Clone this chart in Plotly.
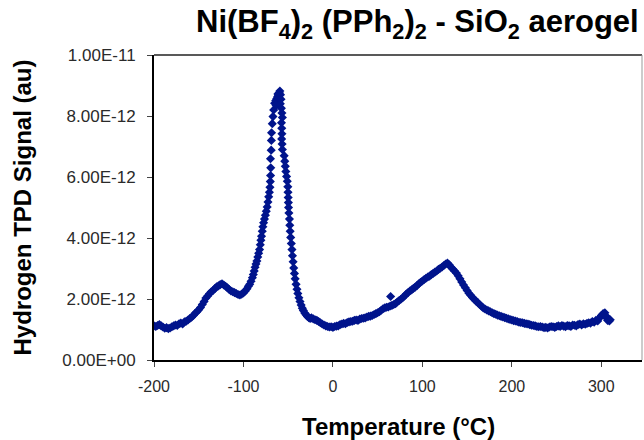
import numpy as np
import plotly.graph_objects as go

# ---- data (signal in units of 1e-12 au) ----
temp_low = [-200, -198, -196, -194, -192, -190, -188, -186, -184, -182, -180, -178, -176, -174,
            -172, -170, -168, -166, -164, -162, -160, -158, -156, -154, -152, -150, -148, -146,
            -144, -142, -140, -138, -136, -134, -132, -130, -128, -126, -124, -122, -120, -118,
            -116, -114, -112, -110, -108, -106, -104, -102, -100, -98, -96, -94.5, -93, -91.5]
sig_low = [1.12, 1.10, 1.13, 1.16, 1.12, 1.08, 1.04, 1.06, 1.03, 1.05, 1.09, 1.12, 1.15, 1.13,
           1.19, 1.21, 1.18, 1.25, 1.27, 1.31, 1.36, 1.40, 1.46, 1.53, 1.58, 1.65, 1.72, 1.82,
           1.92, 2.03, 2.10, 2.17, 2.24, 2.28, 2.34, 2.40, 2.43, 2.47, 2.50, 2.46, 2.42, 2.37,
           2.31, 2.26, 2.24, 2.21, 2.18, 2.15, 2.13, 2.16, 2.20, 2.26, 2.34, 2.42, 2.48, 2.58]

temp_peak = [-90.0, -89.0, -88.0, -87.0, -86.0, -85.0, -84.0, -83.0, -82.0, -81.2, -80.5, -79.8,
             -79.0, -78.3, -77.5, -76.5, -75.5, -74.5, -73.5, -72.6, -71.8, -71.0, -70.4, -70.0,
             -69.7, -69.5, -69.8, -69.0, -68.8, -68.6, -67.8, -67.0, -66.2, -65.2, -64.0, -63.0,
             -62.0, -61.0, -60.0, -59.3, -61.5, -60.5, -63.5,
             -58.6, -58.0, -58.8, -57.6, -57.0, -56.5, -57.5, -57.2, -57.0, -57.3, -56.8, -56.5,
             -54.5, -53.8, -53.2, -52.6, -51.8, -51.0, -50.4, -50.2, -50.0, -49.8, -49.6, -49.2,
             -48.6, -48.2, -47.8, -47.2, -46.5, -45.8, -45.2, -44.5, -43.8, -43.0, -42.2, -41.2,
             -40.2, -39.2, -38.0, -36.8, -35.5, -34.2, -33.0, -31.5, -30.0, -28.5, -27.0, -25.5]
sig_peak = [2.70, 2.80, 2.92, 3.04, 3.15, 3.25, 3.38, 3.50, 3.62, 3.78, 3.93, 4.06,
            4.22, 4.37, 4.50, 4.62, 4.75, 4.88, 5.02, 5.18, 5.35, 5.50, 5.66, 5.85,
            6.05, 6.30, 6.60, 6.88, 7.20, 7.45, 7.75, 7.98, 8.20, 8.42, 8.50, 8.56,
            8.62, 8.68, 8.76, 8.82, 8.72, 8.60, 8.35,
            8.70, 8.55, 8.40, 8.25, 8.10, 7.95, 7.78, 7.60, 7.42, 7.25, 7.08, 6.90,
            6.70, 6.52, 6.35, 6.18, 6.02, 5.86, 5.68, 5.50, 5.33, 5.16, 5.00, 4.82,
            4.62, 4.42, 4.22, 4.02, 3.82, 3.62, 3.42, 3.22, 3.02, 2.84, 2.66, 2.48,
            2.32, 2.18, 2.04, 1.92, 1.80, 1.70, 1.62, 1.54, 1.48, 1.43, 1.39, 1.36]

temp_high = [-24, -22, -20, -18, -16, -14, -12, -10, -8, -6, -4, -2, 0, 2, 4, 6, 8, 10, 12, 14,
             16, 18, 20, 22, 24, 26, 28, 30, 32, 34, 36, 38, 40, 42, 44, 46, 48, 50, 52, 54, 56,
             58, 60, 62, 64, 64.5, 66, 68, 70, 72, 74, 76, 78, 80, 82, 84, 86, 88, 90, 92, 94, 96,
             98, 100, 102, 104, 106, 108, 110, 112, 114, 116, 118, 120, 122, 124, 126, 128, 130,
             132, 134, 136, 138, 140, 142, 144, 146, 148, 150, 152, 154, 156, 158, 160, 162, 164,
             166, 168, 170, 172, 174, 176, 178, 180, 182, 184, 186, 188, 190, 192, 194, 196, 198,
             200, 202, 204, 206, 208, 210, 212, 214, 216, 218, 220, 222, 224, 226, 228, 230, 232,
             234, 236, 238, 240, 242, 244, 246, 248, 250, 252, 254, 256, 258, 260, 262, 264, 266,
             268, 270, 272, 274, 276, 278, 280, 282, 284, 286, 288, 290, 292, 294, 296, 298, 300,
             302, 304, 305, 306, 307, 308, 309, 310]
sig_high = [1.38, 1.35, 1.32, 1.30, 1.26, 1.22, 1.18, 1.15, 1.12, 1.10, 1.08, 1.09, 1.07, 1.10,
            1.11, 1.12, 1.16, 1.18, 1.20, 1.19, 1.23, 1.25, 1.26, 1.27, 1.30, 1.31, 1.30, 1.34,
            1.36, 1.37, 1.38, 1.41, 1.43, 1.44, 1.46, 1.49, 1.52, 1.55, 1.58, 1.63, 1.68, 1.71,
            1.73, 1.74, 1.77, 2.08, 1.79, 1.82, 1.85, 1.90, 1.95, 1.99, 2.04, 2.10, 2.16, 2.21,
            2.26, 2.30, 2.35, 2.39, 2.44, 2.50, 2.55, 2.59, 2.64, 2.68, 2.72, 2.75, 2.80, 2.84,
            2.88, 2.92, 2.97, 3.01, 3.05, 3.10, 3.15, 3.18, 3.12, 3.04, 2.98, 2.92, 2.85, 2.76,
            2.66, 2.56, 2.46, 2.37, 2.28, 2.19, 2.12, 2.05, 1.99, 1.93, 1.88, 1.82, 1.76, 1.71,
            1.67, 1.64, 1.61, 1.58, 1.55, 1.52, 1.50, 1.47, 1.45, 1.43, 1.41, 1.39, 1.37, 1.35,
            1.33, 1.31, 1.29, 1.28, 1.26, 1.24, 1.23, 1.22, 1.20, 1.19, 1.18, 1.16, 1.14, 1.13,
            1.12, 1.10, 1.09, 1.10, 1.08, 1.06, 1.07, 1.05, 1.08, 1.10, 1.09, 1.07, 1.10, 1.12,
            1.10, 1.13, 1.11, 1.09, 1.13, 1.12, 1.10, 1.15, 1.14, 1.12, 1.16, 1.18, 1.15, 1.19,
            1.17, 1.20, 1.22, 1.21, 1.26, 1.24, 1.30, 1.28, 1.38, 1.46, 1.52, 1.55, 1.45, 1.38,
            1.30, 1.34, 1.28, 1.32]

y_tick_vals = [0, 2e-12, 4e-12, 6e-12, 8e-12, 1e-11]
y_tick_text = ["0.00E+00", "2.00E-12", "4.00E-12", "6.00E-12", "8.00E-12", "1.00E-11"]
x_tick_vals = [-200, -100, 0, 100, 200, 300]
x_tick_text = ["-200", "-100", "0", "100", "200", "300"]

temperature = temp_low + temp_peak + temp_high
signal = np.array(sig_low + sig_peak + sig_high) * 1e-12

FONT = "Liberation Sans, Arial, sans-serif"
MARK = "#00148C"

fig = go.Figure()
fig.add_trace(go.Scatter(
    x=temperature, y=signal, mode="markers",
    marker=dict(symbol="diamond", size=7, color=MARK, line=dict(width=0)),
    showlegend=False, hoverinfo="x+y"))

fig.update_layout(
    width=644, height=440,
    margin=dict(l=154, r=2, t=55, b=80),
    paper_bgcolor="white", plot_bgcolor="white",
    font=dict(family=FONT, color="#222"),
    xaxis=dict(range=[-200, 345.5], tickvals=x_tick_vals, ticktext=x_tick_text,
               showgrid=False, zeroline=False,
               showline=True, linecolor="black", linewidth=2, ticks="outside",
               ticklen=5, tickwidth=1, tickcolor="#444", ticklabelstandoff=6,
               tickfont=dict(size=16, family=FONT, color="#2a2a2a")),
    yaxis=dict(range=[0, 1e-11], tickvals=y_tick_vals, ticktext=y_tick_text,
               showgrid=False, zeroline=False, showline=True, linecolor="black", linewidth=2,
               ticks="outside", ticklen=5, tickwidth=1, tickcolor="#444", ticklabelstandoff=8,
               tickfont=dict(size=17, family=FONT, color="#2a2a2a")),
    shapes=[
        dict(type="line", xref="paper", yref="paper", x0=0, x1=1, y0=1, y1=1,
             line=dict(color="#222", width=1.5)),
        dict(type="line", xref="paper", yref="paper", x0=1, x1=1, y0=0, y1=1,
             line=dict(color="#999", width=1)),
    ],
    annotations=[
        dict(text="<b>Ni(BF<sub>4</sub>)<sub>2</sub> (PPh<sub>2</sub>)<sub>2</sub> - SiO<sub>2</sub> aerogel</b>",
             xref="paper", yref="paper", x=0.997, y=1.0 + 53 / 305, xanchor="right", yanchor="top",
             showarrow=False, font=dict(size=31, family=FONT, color="black")),
        dict(text="<b>Temperature (°C)</b>", xref="paper", yref="paper", x=0.5, y=-66 / 305,
             xanchor="center", yanchor="middle", showarrow=False,
             font=dict(size=24, family=FONT, color="black")),
        dict(text="<b>Hydrogen TPD Signal (au)</b>", xref="paper", yref="paper",
             x=-132 / 488, y=0.5, xanchor="center", yanchor="middle", textangle=-90,
             showarrow=False, font=dict(size=24, family=FONT, color="black")),
    ],
)

fig.write_html("out.html", config={"displayModeBar": False},
               post_script="document.body.style.margin='0';document.body.style.overflow='hidden';")
